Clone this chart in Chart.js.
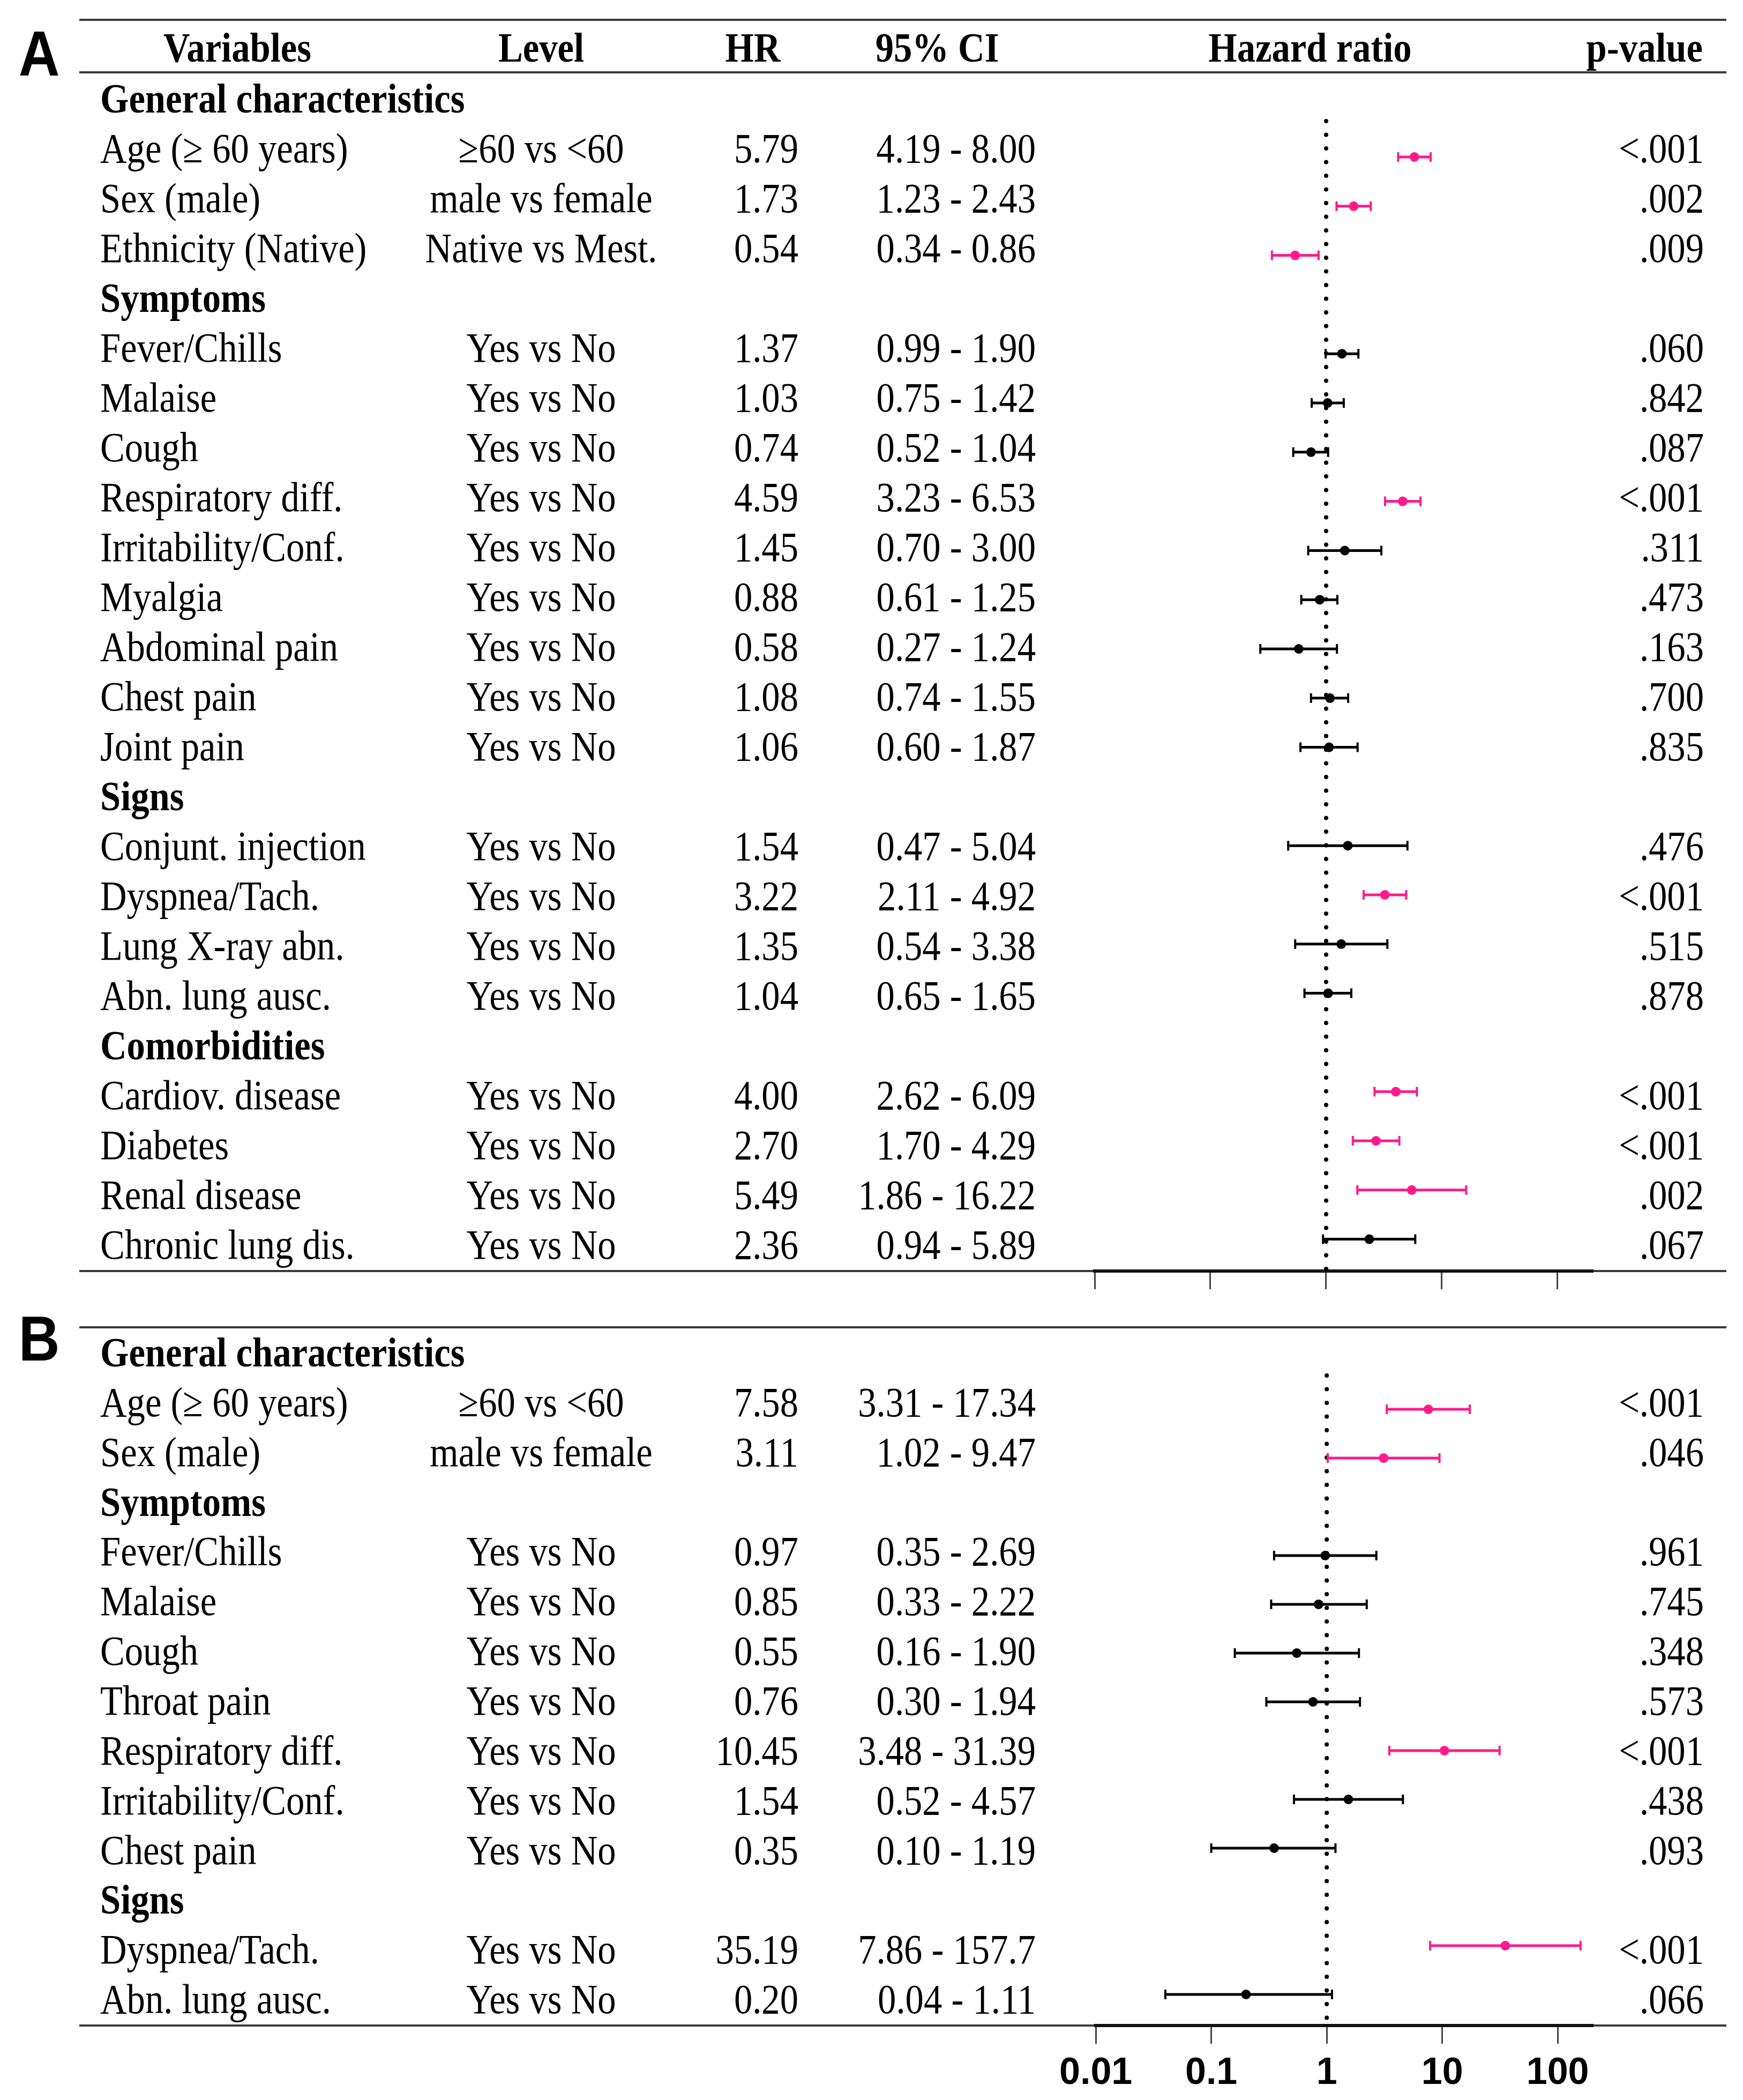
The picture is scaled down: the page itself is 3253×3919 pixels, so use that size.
<!DOCTYPE html>
<html><head><meta charset="utf-8">
<script src="https://cdn.jsdelivr.net/npm/chart.js@4.4.0/dist/chart.umd.min.js"></script>
<style>
html,body{margin:0;padding:0;background:#fff;}
#page{position:relative;width:3253px;height:3919px;background:#fff;overflow:hidden;}
.t{position:absolute;white-space:nowrap;font-family:'Liberation Serif','Times New Roman',serif;font-size:78px;line-height:78px;height:78px;color:#000;}
.b{font-weight:bold;}
.rule{position:absolute;height:4px;background:#3a3a3a;}
.panel{position:absolute;white-space:nowrap;font-family:'Liberation Sans',Arial,sans-serif;font-weight:bold;font-size:118px;line-height:118px;height:118px;color:#000;}
canvas{position:absolute;}
</style></head><body><div id="page"></div>
<script>
// ---------------- data ----------------
const headers = ['Variables','Level','HR','95% CI','Hazard ratio','p-value'];
const tickValues = [0.01, 0.1, 1, 10, 100];
const tickLabels = ['0.01','0.1','1','10','100'];

const sectionsA = ['General characteristics','Symptoms','Signs','Comorbidities'];
const sectionSizesA = [3, 9, 4, 4];
const variablesA = ['Age (≥ 60 years)','Sex (male)','Ethnicity (Native)','Fever/Chills','Malaise','Cough','Respiratory diff.','Irritability/Conf.','Myalgia','Abdominal pain','Chest pain','Joint pain','Conjunt. injection','Dyspnea/Tach.','Lung X-ray abn.','Abn. lung ausc.','Cardiov. disease','Diabetes','Renal disease','Chronic lung dis.'];
const levelsA = ['≥60 vs <60','male vs female','Native vs Mest.','Yes vs No','Yes vs No','Yes vs No','Yes vs No','Yes vs No','Yes vs No','Yes vs No','Yes vs No','Yes vs No','Yes vs No','Yes vs No','Yes vs No','Yes vs No','Yes vs No','Yes vs No','Yes vs No','Yes vs No'];
const hrA = [5.79,1.73,0.54,1.37,1.03,0.74,4.59,1.45,0.88,0.58,1.08,1.06,1.54,3.22,1.35,1.04,4.00,2.70,5.49,2.36];
const ciLowA = [4.19,1.23,0.34,0.99,0.75,0.52,3.23,0.70,0.61,0.27,0.74,0.60,0.47,2.11,0.54,0.65,2.62,1.70,1.86,0.94];
const ciHighA = [8.00,2.43,0.86,1.90,1.42,1.04,6.53,3.00,1.25,1.24,1.55,1.87,5.04,4.92,3.38,1.65,6.09,4.29,16.22,5.89];
const pA = ['<.001','.002','.009','.060','.842','.087','<.001','.311','.473','.163','.700','.835','.476','<.001','.515','.878','<.001','<.001','.002','.067'];

const sectionsB = ['General characteristics','Symptoms','Signs'];
const sectionSizesB = [2, 7, 2];
const variablesB = ['Age (≥ 60 years)','Sex (male)','Fever/Chills','Malaise','Cough','Throat pain','Respiratory diff.','Irritability/Conf.','Chest pain','Dyspnea/Tach.','Abn. lung ausc.'];
const levelsB = ['≥60 vs <60','male vs female','Yes vs No','Yes vs No','Yes vs No','Yes vs No','Yes vs No','Yes vs No','Yes vs No','Yes vs No','Yes vs No'];
const hrB = [7.58,3.11,0.97,0.85,0.55,0.76,10.45,1.54,0.35,35.19,0.20];
const ciLowB = [3.31,1.02,0.35,0.33,0.16,0.30,3.48,0.52,0.10,7.86,0.04];
const ciHighB = [17.34,9.47,2.69,2.22,1.90,1.94,31.39,4.57,1.19,157.7,1.11];
const pB = ['<.001','.046','.961','.745','.348','.573','<.001','.438','.093','<.001','.066'];

// ---------------- helpers ----------------
const page = document.getElementById('page');
const PINK = '#FF1A8C', BLACK = '#000000';
function isSig(p){ return p.charAt(0) === '<' || parseFloat('0' + p) < 0.05; }
function fmtHR(v){ return v.toFixed(2); }
function fmtCI(v){ return v >= 100 ? v.toFixed(1) : v.toFixed(2); }

function txt(s, x, y, align, bold){
  const d = document.createElement('div');
  d.className = 't' + (bold ? ' b' : '');
  d.textContent = s;
  d.style.left = x + 'px';
  d.style.top = (y - 39) + 'px';
  if (align === 'center'){ d.style.transformOrigin = '50% 50%'; d.style.transform = 'translateX(-50%) scaleX(0.88)'; }
  else if (align === 'right'){ d.style.transformOrigin = '100% 50%'; d.style.transform = 'translateX(-100%) scaleX(0.88)'; }
  else { d.style.transformOrigin = '0 50%'; d.style.transform = 'scaleX(0.88)'; }
  page.appendChild(d);
}
function rule(y, x1, x2){
  const d = document.createElement('div');
  d.className = 'rule';
  d.style.top = (y - 2) + 'px'; d.style.left = x1 + 'px'; d.style.width = (x2 - x1) + 'px';
  page.appendChild(d);
}
function panelLetter(s, x, y){
  const d = document.createElement('div');
  d.className = 'panel'; d.textContent = s;
  d.style.left = x + 'px'; d.style.top = (y - 59) + 'px';
  d.style.transformOrigin = '50% 50%'; d.style.transform = 'translateX(-50%) scaleX(0.9)';
  page.appendChild(d);
}

// column anchors
const COL = { varX: 187, levelX: 1010, hrX: 1490, ciX: 1933, pX: 3180 };

function buildTable(sections, sizes, vars, levels, hr, lo, hi, pv, row0, step){
  const rowIdx = [];
  let r = 0, k = 0;
  sections.forEach((sec, si) => {
    txt(sec, COL.varX, row0 + step * r, 'left', true);
    r++;
    for (let j = 0; j < sizes[si]; j++, k++, r++){
      const y = row0 + step * r;
      txt(vars[k], COL.varX, y, 'left', false);
      txt(levels[k], COL.levelX, y, 'center', false);
      txt(fmtHR(hr[k]), COL.hrX, y, 'right', false);
      txt(fmtCI(lo[k]) + ' - ' + fmtCI(hi[k]), COL.ciX, y, 'right', false);
      txt(pv[k], COL.pX, y, 'right', false);
      rowIdx.push(r);
    }
  });
  return rowIdx;
}

// ---------------- table text ----------------
const X1 = 148, X2 = 3222;
rule(37, X1, X2);
rule(135, X1, X2);
panelLetter('A', 73, 100);
txt(headers[0], 443, 89, 'center', true);
txt(headers[1], 1010, 89, 'center', true);
txt(headers[2], 1405, 89, 'center', true);
txt(headers[3], 1749, 89, 'center', true);
txt(headers[4], 2445, 89, 'center', true);
txt(headers[5], 3178, 89, 'right', true);
const rowsA = buildTable(sectionsA, sectionSizesA, variablesA, levelsA, hrA, ciLowA, ciHighA, pA, 184, 93.0);
rule(2372, X1, X2);

rule(2477, X1, X2);
panelLetter('B', 73, 2498);
const rowsB = buildTable(sectionsB, sectionSizesB, variablesB, levelsB, hrB, ciLowB, ciHighB, pB, 2524, 92.85);
rule(3780, X1, X2);

// ---------------- charts ----------------
const forestPlugin = {
  id: 'forest',
  beforeDatasetsDraw(chart){
    const { ctx, chartArea, scales: { x, y } } = chart;
    const px = x.getPixelForValue(1);
    ctx.save();
    ctx.strokeStyle = '#000'; ctx.lineWidth = 8; ctx.lineCap = 'round';
    ctx.setLineDash([0, 25.5]);
    ctx.beginPath(); ctx.moveTo(px, chartArea.top + 4); ctx.lineTo(px, chartArea.bottom); ctx.stroke();
    ctx.setLineDash([]); ctx.lineCap = 'butt';
    const ds = chart.data.datasets[0];
    ds.data.forEach((d, i) => {
      const yy = y.getPixelForValue(d.y);
      const x1 = x.getPixelForValue(d.lo), x2 = x.getPixelForValue(d.hi);
      ctx.strokeStyle = ds.pointBackgroundColor[i];
      ctx.lineWidth = 5;
      ctx.beginPath(); ctx.moveTo(x1, yy); ctx.lineTo(x2, yy); ctx.stroke();
      ctx.lineWidth = 4;
      ctx.beginPath();
      ctx.moveTo(x1, yy - 9); ctx.lineTo(x1, yy + 9);
      ctx.moveTo(x2, yy - 9); ctx.lineTo(x2, yy + 9);
      ctx.stroke();
    });
    ctx.restore();
  }
};

function makeChart(left, top, width, height, padTop, axisH, rowIdx, hr, lo, hi, pv, yMin, yMax, showLabels){
  const cv = document.createElement('canvas');
  cv.width = width; cv.height = height;
  cv.style.left = left + 'px'; cv.style.top = top + 'px';
  cv.style.width = width + 'px'; cv.style.height = height + 'px';
  page.appendChild(cv);
  const pts = hr.map((v, i) => ({ x: v, y: rowIdx[i], lo: lo[i], hi: hi[i] }));
  const cols = pv.map(p => isSig(p) ? PINK : BLACK);
  return new Chart(cv, {
    type: 'scatter',
    data: { datasets: [{ data: pts, pointRadius: 9, pointHoverRadius: 9, pointBackgroundColor: cols, pointBorderWidth: 0, clip: false }] },
    options: {
      responsive: false, animation: false, devicePixelRatio: 1,
      layout: { padding: { left: 80, right: 80, top: padTop, bottom: 0 } },
      plugins: { legend: { display: false }, tooltip: { enabled: false } },
      events: [],
      scales: {
        x: {
          type: 'logarithmic', min: 0.01, max: 200,
          afterBuildTicks: s => { s.ticks = tickValues.map(v => ({ value: v })); },
          afterFit: s => { s.height = axisH; },
          ticks: {
            display: showLabels, autoSkip: false, maxRotation: 0, padding: 14, color: '#000',
            font: { family: "'Liberation Sans', Arial, sans-serif", weight: 'bold', size: 70 },
            callback: (v, i) => tickLabels[i]
          },
          grid: { drawOnChartArea: false, drawTicks: true, tickLength: 34, color: '#444', lineWidth: 3 },
          border: { display: true, color: '#111', width: 6 }
        },
        y: { type: 'linear', display: false, reverse: true, min: yMin, max: yMax }
      }
    },
    plugins: [forestPlugin]
  });
}

// panel A: y-pixel = 201.2 + 91.8*row ; chart area 222..2372
makeChart(1963, 150, 1089, 2302, 72, 80, rowsA, hrA, ciLowA, ciHighA, pA, (222 - 201.2) / 91.8, (2372 - 201.2) / 91.8, false);
// panel B: y-pixel = 2539 + 91*row ; chart area 2563..3780
makeChart(1963, 2500, 1089, 1419, 63, 139, rowsB, hrB, ciLowB, ciHighB, pB, (2563 - 2539) / 91, (3780 - 2539) / 91, true);
</script>
</body></html>
